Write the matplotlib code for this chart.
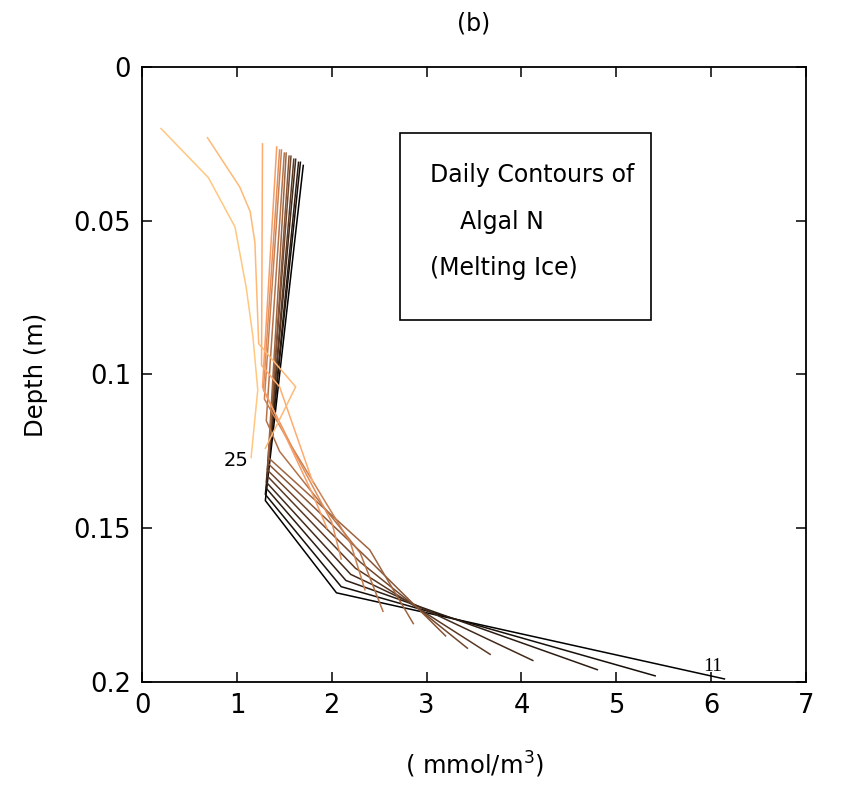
import numpy as np
import matplotlib.pyplot as plt
from matplotlib.patches import Rectangle

# ============================================================
# Data: daily algal N profiles (mmol/m^3) vs depth (m)
# ============================================================

days = list(range(11, 26))

algal_n = [
    [1.70, 1.30, 2.05, 6.14],
    [1.67, 1.30, 2.10, 5.41],
    [1.65, 1.31, 2.15, 4.80],
    [1.62, 1.31, 2.20, 4.12],
    [1.60, 1.32, 2.25, 3.67],
    [1.57, 1.32, 2.30, 3.43],
    [1.55, 1.33, 2.35, 3.20],
    [1.52, 1.33, 2.40, 2.86],
    [1.50, 1.31, 1.45, 2.30, 2.54],
    [1.47, 1.29, 1.55, 2.20, 2.35],
    [1.45, 1.28, 1.62, 2.00, 2.10],
    [1.42, 1.27, 1.80, 1.95],
    [1.27, 1.26, 1.45, 1.80],
    [0.69, 1.03, 1.14, 1.19, 1.23, 1.62, 1.30],
    [0.20, 0.70, 0.98, 1.10, 1.17, 1.22, 1.15],
]

depth = [
    [0.032, 0.141, 0.171, 0.199],
    [0.031, 0.139, 0.169, 0.198],
    [0.031, 0.137, 0.167, 0.196],
    [0.030, 0.135, 0.165, 0.193],
    [0.030, 0.133, 0.163, 0.191],
    [0.029, 0.131, 0.161, 0.189],
    [0.029, 0.129, 0.159, 0.185],
    [0.028, 0.127, 0.157, 0.181],
    [0.028, 0.115, 0.125, 0.158, 0.177],
    [0.027, 0.108, 0.122, 0.155, 0.170],
    [0.027, 0.105, 0.126, 0.148, 0.160],
    [0.026, 0.104, 0.139, 0.150],
    [0.025, 0.097, 0.104, 0.135],
    [0.023, 0.039, 0.047, 0.057, 0.090, 0.104, 0.124],
    [0.020, 0.036, 0.052, 0.072, 0.088, 0.105, 0.127],
]

x_ticks = [0, 1, 2, 3, 4, 5, 6, 7]
y_ticks = [0, 0.05, 0.1, 0.15, 0.2]
y_tick_labels = ["0", "0.05", "0.1", "0.15", "0.2"]

box_lines = ["Daily Contours of", "    Algal N", "(Melting Ice)"]

# ============================================================
# Figure
# ============================================================

plt.rcParams.update({
    "font.family": ["DejaVu Sans"],
    "font.size": 17,
    "axes.linewidth": 1.3,
})

fig = plt.figure(figsize=(8.53, 7.91), dpi=100)
ax = fig.add_axes([0.1665, 0.1378, 0.7784, 0.7775])

n = len(days)
for i, (xs, ds) in enumerate(zip(algal_n, depth)):
    ax.plot(xs, ds, color=plt.cm.copper(i / (n - 1)), linewidth=1.1)

# day labels at the line ends
ax.text(algal_n[-1][-1] - 0.03, depth[-1][-1] + 0.001, str(days[-1]),
        ha="right", va="center", fontsize=14)
ax.text(algal_n[0][-1] - 0.02, depth[0][-1] - 0.004, str(days[0]),
        ha="right", va="center", fontsize=14, family="Liberation Serif")

# text box
ax.add_patch(Rectangle((2.72, 0.0215), 2.65, 0.0608, fill=False,
                       edgecolor="black", linewidth=1.2))
for k, line in enumerate(box_lines):
    ax.text(3.04, 0.0352 + k * 0.0151, line, ha="left", va="center", fontsize=17)

ax.set_xlim(0, 7)
ax.set_ylim(0.2, 0)
ax.set_xticks(x_ticks)
ax.set_yticks(y_ticks)
ax.set_yticklabels(y_tick_labels)
ax.tick_params(direction="in", length=7, width=1.1, top=True, right=True,
               labelsize=18.5, pad=8)

ax.set_xlabel("( mmol/m$^3$)", fontsize=17.5, labelpad=22)
ax.set_ylabel("Depth (m)", fontsize=17.5, labelpad=18)
ax.set_title("(b)", fontsize=17, pad=26)

fig.savefig("out.png", dpi=100)
